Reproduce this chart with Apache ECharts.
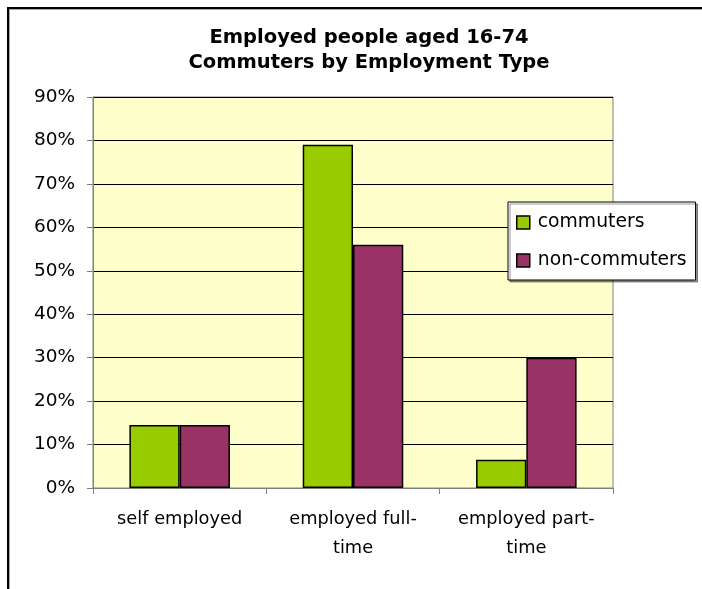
<!DOCTYPE html>
<html>
<head>
<meta charset="utf-8">
<script src="https://cdn.jsdelivr.net/npm/echarts@6/dist/echarts.min.js"></script>
<style>
html,body{margin:0;padding:0;background:#fff;}
#chart{width:702px;height:589px;}
</style>
</head>
<body>
<div id="chart"></div>
<script>
var titleLines = ['Employed people aged 16-74', 'Commuters by Employment Type'];
var categories = ['self employed', 'employed full-time', 'employed part-time'];
var seriesNames = ['commuters', 'non-commuters'];
var commuters = [14.5, 79, 6.5];
var nonCommuters = [14.5, 56, 30];
var yTicks = [0, 10, 20, 30, 40, 50, 60, 70, 80, 90];

var FONT = 'DejaVu Sans';
var chart = echarts.init(document.getElementById('chart'));
chart.setOption({
  animation: false,
  backgroundColor: '#ffffff',
  graphic: [{
    type: 'rect', z: 100,
    shape: {x: 8, y: 8, width: 900, height: 900},
    style: {fill: 'none', stroke: '#000', lineWidth: 2, shadowColor: 'rgba(0,0,0,0.35)', shadowOffsetX: 1, shadowOffsetY: 1, shadowBlur: 0}
  }],
  title: {
    text: titleLines.join('\n'),
    left: 364, top: 20, textAlign: 'center',
    textStyle: {fontFamily: FONT, fontWeight: 'bold', fontSize: 19.5, lineHeight: 25, color: '#000'}
  },
  legend: {
    orient: 'vertical',
    left: 508, top: 202,
    padding: [11, 9, 10, 8],
    itemGap: 19,
    itemWidth: 13, itemHeight: 13,
    icon: 'rect',
    backgroundColor: '#fff',
    borderColor: '#000', borderWidth: 1,
    shadowColor: 'rgba(0,0,0,0.4)', shadowOffsetX: 2, shadowOffsetY: 2, shadowBlur: 0,
    textStyle: {fontFamily: FONT, fontSize: 18.8, color: '#000', padding: [0, 0, 0, 3]},
    data: seriesNames.map(function (n) { return {name: n, itemStyle: {borderColor: '#000', borderWidth: 1.5}}; })
  },
  grid: {
    left: 93, right: 89, top: 97, bottom: 101,
    show: true, backgroundColor: '#FFFFCC', borderColor: '#808080', borderWidth: 1
  },
  xAxis: {
    type: 'category',
    data: categories,
    axisLine: {lineStyle: {color: '#808080', width: 1}},
    axisTick: {show: true, interval: 0, length: 6, lineStyle: {color: '#808080'}},
    axisLabel: {
      interval: 0, hideOverlap: false,
      fontFamily: FONT, fontSize: 17.8, color: '#000', margin: 17, lineHeight: 29,
      formatter: function (v) { return v.replace(/-(?=time)/, '-\n'); }
    }
  },
  yAxis: {
    type: 'value',
    min: 0, max: 90, interval: 10,
    axisLine: {show: true, lineStyle: {color: '#808080', width: 1}},
    axisTick: {show: true, length: 6, lineStyle: {color: '#808080'}},
    splitLine: {lineStyle: {color: '#000', width: 1}},
    axisLabel: {fontFamily: FONT, fontSize: 18.5, color: '#000', margin: 18,
      formatter: function (v) { return yTicks.indexOf(v) >= 0 ? v + '%' : ''; }}
  },
  series: [{
    name: seriesNames[0], type: 'bar', data: commuters,
    barGap: '0%', barCategoryGap: '42%',
    itemStyle: {color: '#99CC00', borderColor: '#000', borderWidth: 1.5}
  }, {
    name: seriesNames[1], type: 'bar', data: nonCommuters,
    itemStyle: {color: '#993366', borderColor: '#000', borderWidth: 1.5}
  }]
});
</script>
</body>
</html>
